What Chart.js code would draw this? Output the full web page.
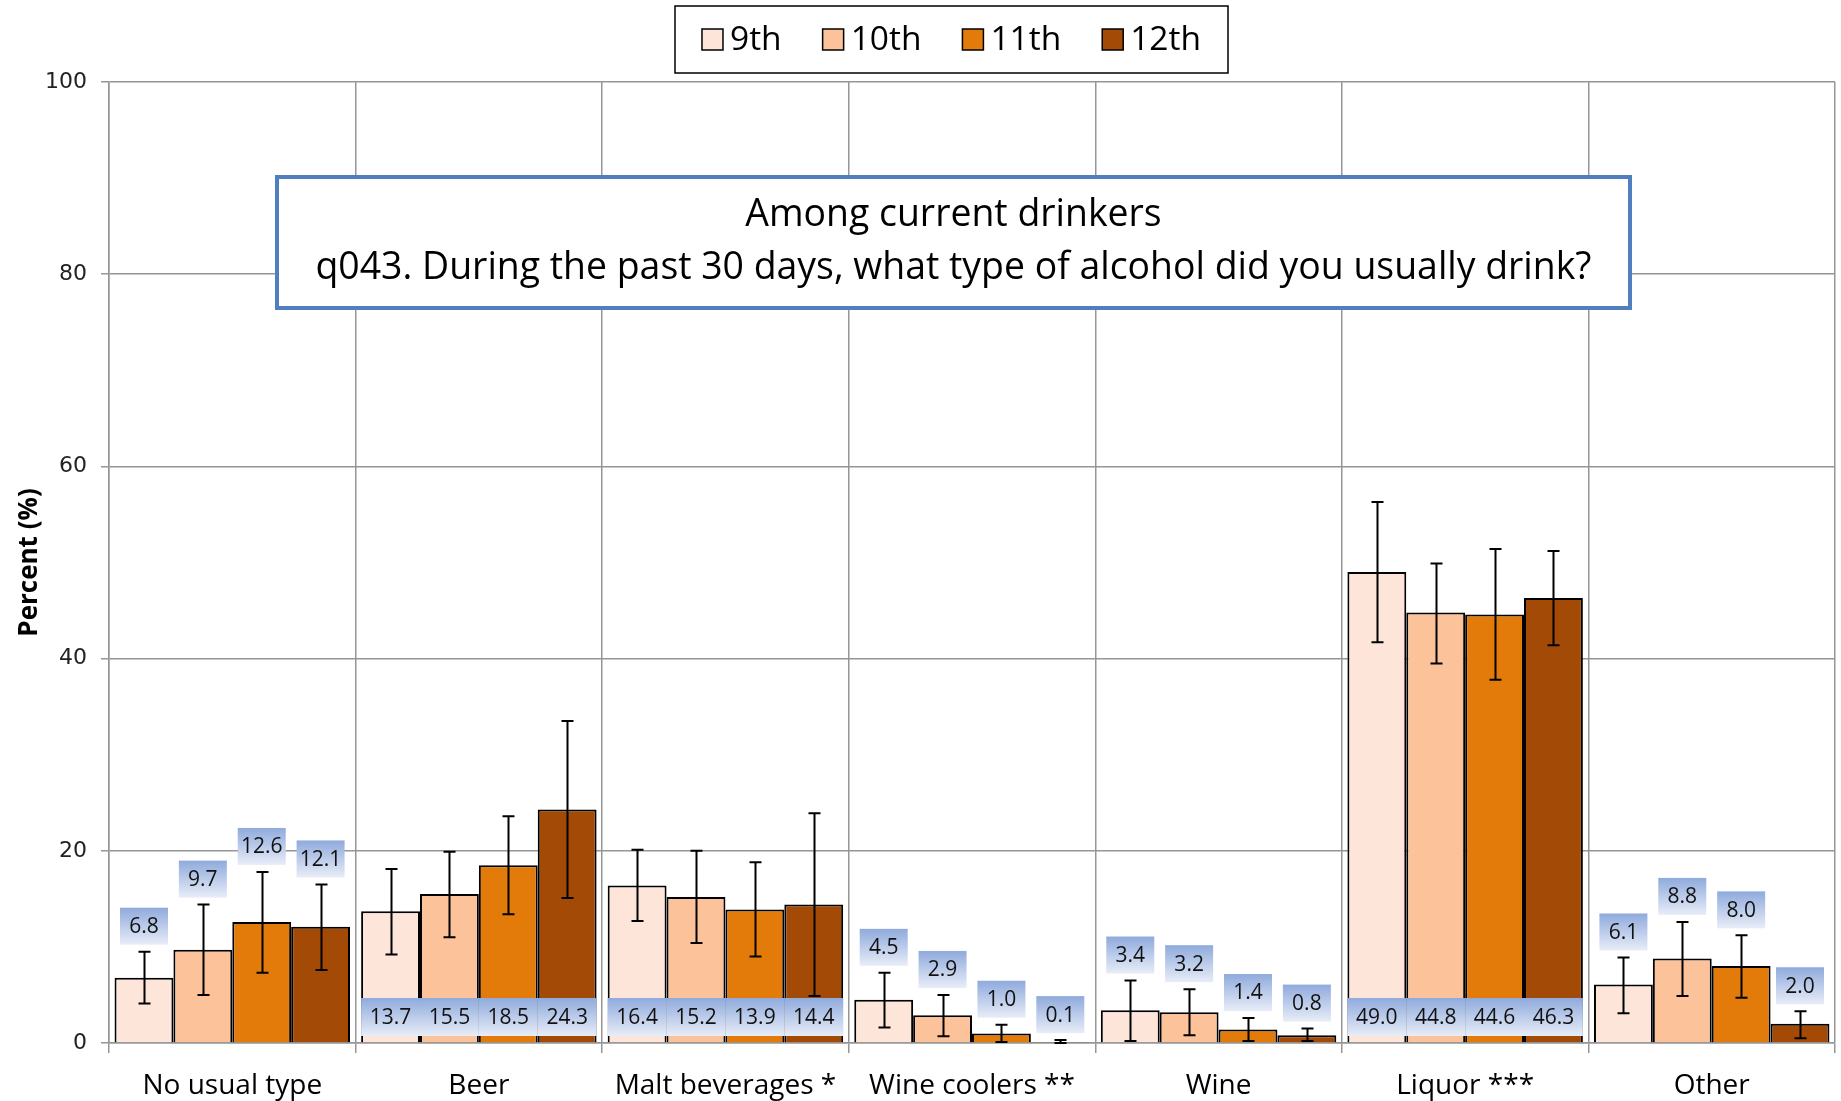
<!DOCTYPE html>
<html><head><meta charset="utf-8">
<script src="https://cdn.jsdelivr.net/npm/chart.js@4.4.1/dist/chart.umd.min.js"></script>
<style>html,body{margin:0;padding:0;background:#fff}#wrap{width:1841px;height:1101px;position:relative}</style>
</head><body><div id="wrap"><canvas id="c" width="1841" height="1101"></canvas></div>
<script>
const categories = ["No usual type","Beer","Malt beverages *","Wine coolers **","Wine","Liquor ***","Other"];
const seriesLabels = ["9th","10th","11th","12th"];
const grade9  = [6.8, 13.7, 16.4, 4.5, 3.4, 49.0, 6.1];
const grade10 = [9.7, 15.5, 15.2, 2.9, 3.2, 44.8, 8.8];
const grade11 = [12.6, 18.5, 13.9, 1.0, 1.4, 44.6, 8.0];
const grade12 = [12.1, 24.3, 14.4, 0.1, 0.8, 46.3, 2.0];
const lower9  = [4.1, 9.2, 12.7, 1.6, 0.2, 41.7, 3.1];
const upper9  = [9.5, 18.1, 20.1, 7.3, 6.5, 56.3, 8.9];
const lower10 = [5.0, 11.0, 10.4, 0.7, 0.8, 39.5, 4.9];
const upper10 = [14.4, 19.9, 20.0, 5.0, 5.6, 49.9, 12.6];
const lower11 = [7.3, 13.4, 9.0, 0.1, 0.2, 37.8, 4.7];
const upper11 = [17.8, 23.6, 18.8, 1.9, 2.6, 51.4, 11.2];
const lower12 = [7.6, 15.1, 4.9, 0.0, 0.2, 41.4, 0.5];
const upper12 = [16.5, 33.5, 23.9, 0.3, 1.5, 51.2, 3.3];
const yTicks = [0, 20, 40, 60, 80, 100];
const titleLines = ["Among current drinkers", "q043. During the past 30 days, what type of alcohol did you usually drink?"];
const yAxisTitle = "Percent (%)";

const values = [grade9, grade10, grade11, grade12];
const lowers = [lower9, lower10, lower11, lower12];
const uppers = [upper9, upper10, upper11, upper12];
const colors = ["#FDE6D9", "#FCC39A", "#E27B09", "#A34A06"];
const FONT = "'Open Sans', 'Noto Sans', sans-serif";

const errorBarPlugin = {
  id: 'errorBars',
  afterDatasetsDraw(chart) {
    const ctx = chart.ctx, ys = chart.scales.y;
    ctx.save();
    ctx.strokeStyle = '#000';
    ctx.lineWidth = 2;
    chart.data.datasets.forEach((ds, i) => {
      const meta = chart.getDatasetMeta(i);
      meta.data.forEach((el, j) => {
        const x = Math.round(el.x) + 0.5;
        const yh = ys.getPixelForValue(uppers[i][j]);
        const yl = ys.getPixelForValue(lowers[i][j]);
        ctx.beginPath();
        ctx.moveTo(x, yh); ctx.lineTo(x, yl);
        ctx.moveTo(x - 6, yh); ctx.lineTo(x + 6, yh);
        ctx.moveTo(x - 6, yl); ctx.lineTo(x + 6, yl);
        ctx.stroke();
      });
    });
    ctx.restore();
  }
};

function gradBox(ctx, x, y, w, h) {
  const g = ctx.createLinearGradient(0, y, 0, y + h);
  g.addColorStop(0, '#8FAADC');
  g.addColorStop(1, '#E8EDF8');
  ctx.fillStyle = g;
  ctx.fillRect(x, y, w, h);
}

const labelPlugin = {
  id: 'valueLabels',
  afterDatasetsDraw(chart) {
    const ctx = chart.ctx, ys = chart.scales.y;
    ctx.save();
    ctx.font = "21px " + FONT;
    ctx.textAlign = 'center';
    ctx.textBaseline = 'middle';
    const y0 = ys.getPixelForValue(0);
    categories.forEach((c, j) => {
      const minVal = Math.min(...values.map(v => v[j]));
      const base = minVal >= 13;
      chart.data.datasets.forEach((ds, i) => {
        const el = chart.getDatasetMeta(i).data[j];
        const txt = values[i][j].toFixed(1);
        let bx, by, bw, bh;
        if (base) {
          bw = el.width; bh = 38;
          bx = el.x - bw / 2; by = y0 - 7 - bh;
        } else {
          bw = 48; bh = 37;
          bx = el.x - bw / 2;
          by = ys.getPixelForValue(uppers[i][j]) - 7 - bh;
        }
        gradBox(ctx, bx, by, bw, bh);
        ctx.fillStyle = '#111';
        ctx.fillText(txt, el.x, by + bh / 2 + 1);
      });
    });
    ctx.restore();
  }
};

const titleBoxPlugin = {
  id: 'titleBox',
  afterDraw(chart) {
    const ctx = chart.ctx;
    const x = 277, y = 177, w = 1353, h = 131;
    ctx.save();
    ctx.fillStyle = '#fff';
    ctx.fillRect(x, y, w, h);
    ctx.strokeStyle = '#4F7FBE';
    ctx.lineWidth = 4;
    ctx.strokeRect(x, y, w, h);
    ctx.fillStyle = '#000';
    ctx.font = "100px " + FONT;
    const m = ctx.measureText(titleLines[1]).width;
    const size = Math.min(40, 100 * 1276 / m);
    ctx.font = size.toFixed(1) + "px " + FONT;
    ctx.textAlign = 'center';
    ctx.textBaseline = 'middle';
    ctx.fillText(titleLines[0], x + w / 2, 215);
    ctx.fillText(titleLines[1], x + w / 2, 268);
    ctx.restore();
  }
};

const legendPlugin = {
  id: 'boxLegend',
  afterDraw(chart) {
    const ctx = chart.ctx;
    const bx = 675, by = 6, bw = 553, bh = 67;
    ctx.save();
    ctx.strokeStyle = '#000';
    ctx.lineWidth = 1.5;
    ctx.strokeRect(bx, by, bw, bh);
    ctx.font = "33.5px " + FONT;
    ctx.textBaseline = 'middle';
    ctx.textAlign = 'left';
    const sq = 21, gap = 7, itemGap = 41;
    const widths = seriesLabels.map(l => ctx.measureText(l).width);
    const total = widths.reduce((a, b) => a + b, 0) + seriesLabels.length * (sq + gap) + (seriesLabels.length - 1) * itemGap;
    let cx = bx + (bw - total) / 2;
    const cy = by + bh / 2;
    seriesLabels.forEach((l, i) => {
      ctx.fillStyle = colors[i];
      ctx.fillRect(cx, cy - sq / 2, sq, sq);
      ctx.strokeStyle = '#000';
      ctx.lineWidth = 1.5;
      ctx.strokeRect(cx, cy - sq / 2, sq, sq);
      ctx.fillStyle = '#000';
      ctx.fillText(l, cx + sq + gap, cy + 1);
      cx += sq + gap + widths[i] + itemGap;
    });
    ctx.restore();
  }
};

const gridColor = '#969696';
new Chart(document.getElementById('c'), {
  type: 'bar',
  data: {
    labels: categories,
    datasets: seriesLabels.map((l, i) => ({
      label: l,
      data: values[i],
      backgroundColor: colors[i],
      borderColor: '#000',
      borderWidth: 2,
      categoryPercentage: 0.955,
      barPercentage: 1.0
    }))
  },
  options: {
    responsive: false,
    devicePixelRatio: 1,
    animation: false,
    layout: { padding: { top: 82, right: 6, left: 0, bottom: 0 } },
    plugins: { legend: { display: false }, tooltip: { enabled: false } },
    scales: {
      x: {
        grid: { display: true, offset: true, color: gridColor, lineWidth: 1.5, tickLength: 10, drawOnChartArea: true },
        border: { display: true, color: gridColor, width: 1.5 },
        ticks: { font: { family: FONT, size: 28 }, color: '#000', padding: 16, maxRotation: 0, autoSkip: false },
        afterFit(s) { s.height = 58; }
      },
      y: {
        min: 0, max: 100,
        afterBuildTicks(s) { s.ticks = yTicks.map(v => ({ value: v })); },
        grid: { color: gridColor, lineWidth: 1.5, tickLength: 8 },
        border: { display: true, color: gridColor, width: 1.5 },
        ticks: { font: { family: "'DejaVu Sans', sans-serif", size: 22 }, color: '#222', padding: 14 },
        title: { display: true, text: yAxisTitle, font: { family: FONT, size: 26, weight: 'bold' }, color: '#000', padding: { top: 14, bottom: 0 } },
        afterFit(s) { s.width = 109; }
      }
    }
  },
  plugins: [errorBarPlugin, labelPlugin, titleBoxPlugin, legendPlugin]
});
</script>
</body></html>
